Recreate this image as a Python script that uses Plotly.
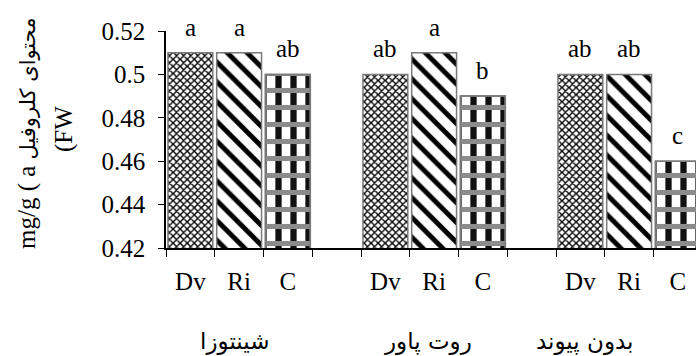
import plotly.graph_objects as go

# Chlorophyll a content per rootstock group and treatment
groups = ["شینتوزا", "روت پاور", "بدون پیوند"]
treatments = ["Dv", "Ri", "C"]
chl_dv = [0.51, 0.50, 0.50]
chl_ri = [0.51, 0.51, 0.50]
chl_c = [0.50, 0.49, 0.46]
sig_dv = ["a", "ab", "ab"]
sig_ri = ["a", "a", "ab"]
sig_c = ["ab", "b", "c"]
y_ticks = [0.42, 0.44, 0.46, 0.48, 0.50, 0.52]
y_ticktext = ["0.42", "0.44", "0.46", "0.48", "0.5", "0.52"]

SERIF = "Liberation Serif, Times New Roman, serif"
FA = "DejaVu Sans, sans-serif"

W, H = 696, 356
L, R, T, B = 166, 0, 31, 108
plot_w = W - L - R
plot_h = H - T - B
slot_px = 48.75  # pixel width of one category slot

SLOT = 4  # three bars plus an empty slot per group


def slots(i):
    return [g * SLOT + i for g in range(len(groups))]


x_dv, x_ri, x_c = slots(0), slots(1), slots(2)
outline = dict(color="#7a7a7a", width=1.5)
bar_w = 0.92

fig = go.Figure()
fig.add_trace(go.Bar(
    x=x_dv, y=chl_dv, base=0, width=bar_w, name="Dv", opacity=1,
    marker=dict(color="white", line=outline, opacity=1,
                pattern=dict(shape="x", fgcolor="black", bgcolor="white",
                             fgopacity=1, size=5, solidity=0.48)),
))
fig.add_trace(go.Bar(
    x=x_ri, y=chl_ri, base=0, width=bar_w, name="Ri", opacity=1,
    marker=dict(color="white", line=outline, opacity=1,
                pattern=dict(shape="\\", fgcolor="black", bgcolor="white",
                             fgopacity=1, size=14, solidity=0.35)),
))
fig.add_trace(go.Bar(
    x=x_c, y=chl_c, base=0, width=bar_w, name="C", opacity=1,
    marker=dict(color="white", line=outline, opacity=1,
                pattern=dict(shape="|", fgcolor="#111111", bgcolor="white",
                             fgopacity=1, size=15, solidity=0.42)),
))
# horizontal checkered bands of the C fill
fig.add_trace(go.Bar(
    x=x_c, y=chl_c, base=0, width=bar_w, name="C", showlegend=False,
    hoverinfo="skip", opacity=1,
    marker=dict(color="rgba(0,0,0,0)", line=outline, opacity=1,
                pattern=dict(shape="-", fgcolor="#8c8c8c", fillmode="overlay",
                             fgopacity=1, size=17, solidity=0.3)),
))

annotations = []
for xs, vals, sigs in [(x_dv, chl_dv, sig_dv), (x_ri, chl_ri, sig_ri), (x_c, chl_c, sig_c)]:
    for x, v, s in zip(xs, vals, sigs):
        annotations.append(dict(
            x=x, y=v, xref="x", yref="y", text=s, showarrow=False,
            yanchor="bottom", yshift=10,
            font=dict(family=SERIF, size=25, color="black"),
        ))

# group names under the axis
group_px = [234, 428, 584]
for name, px in zip(groups, group_px):
    annotations.append(dict(
        x=(px - L) / plot_w, y=(H - B - 341) / plot_h, xref="paper", yref="paper",
        text=name, showarrow=False, xanchor="center", yanchor="middle",
        font=dict(family=FA, size=23, color="black"),
    ))

# y-axis title in two rotated lines
title_line1 = ("mg/g ( a <span style=\"font-family:DejaVu Sans;font-size:21px\">"
               "محتوای کلروفیل</span>")
title_line2 = "(FW"
annotations.append(dict(
    x=(27 - L) / plot_w, y=(H - B - 134) / plot_h, xref="paper", yref="paper",
    text=title_line1, textangle=-90, showarrow=False,
    xanchor="center", yanchor="middle",
    font=dict(family=SERIF, size=25, color="black"),
))
annotations.append(dict(
    x=(64 - L) / plot_w, y=(H - B - 129) / plot_h, xref="paper", yref="paper",
    text=title_line2, textangle=-90, showarrow=False,
    xanchor="center", yanchor="middle",
    font=dict(family=SERIF, size=25, color="black"),
))

centers = sorted(x_dv + x_ri + x_c)
center_text = [treatments[c % SLOT] for c in centers]
boundaries = [k - 0.5 for k in range(len(groups) * SLOT - 1)]

fig.update_layout(
    width=W, height=H,
    margin=dict(l=L, r=R, t=T, b=B, pad=0),
    paper_bgcolor="white", plot_bgcolor="white",
    barmode="overlay", showlegend=False,
    annotations=annotations,
    xaxis=dict(
        range=[-0.5, -0.5 + plot_w / slot_px],
        tickmode="array", tickvals=centers, ticktext=center_text,
        ticks="", showline=True, linecolor="black", linewidth=1.5,
        showgrid=False, zeroline=False,
        tickfont=dict(family=SERIF, size=25, color="black"),
        ticklabelstandoff=10,
        minor=dict(tickmode="array", tickvals=boundaries, ticks="outside",
                   ticklen=7, tickwidth=1.2, tickcolor="black", showgrid=False),
    ),
    yaxis=dict(
        range=[0.42, 0.52],
        tickmode="array", tickvals=y_ticks, ticktext=y_ticktext,
        ticks="outside", ticklen=6, tickwidth=1.2, tickcolor="black",
        showline=True, linecolor="black", linewidth=1.5,
        showgrid=False, zeroline=False,
        tickfont=dict(family=SERIF, size=25, color="black"),
        ticklabelstandoff=8,
    ),
)

fig.write_html("out.html")
